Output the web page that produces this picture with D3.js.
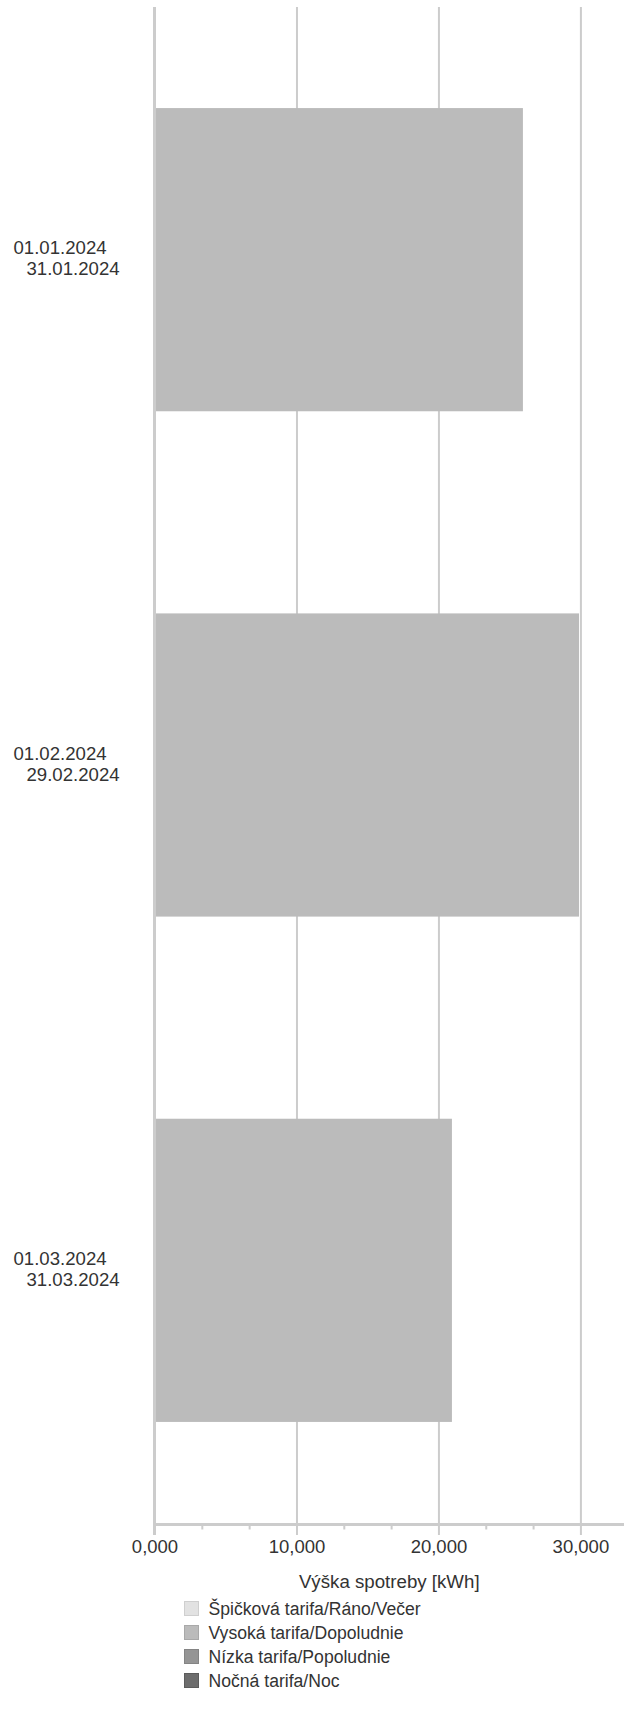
<!DOCTYPE html>
<html>
<head>
<meta charset="utf-8">
<script src="https://cdn.jsdelivr.net/npm/d3@7/dist/d3.min.js"></script>
<style>
	body { margin: 0; background: #fff; }
	svg { display: block; font-family: "Liberation Sans", Arial, sans-serif; }
</style>
</head>
<body>
<script>
// billing periods (two lines per label)
const periodFrom = ["01.01.2024", "01.02.2024", "01.03.2024"];
const periodTo = ["31.01.2024", "29.02.2024", "31.03.2024"];

// consumption per tariff, kWh
const tariffNames = ["Špičková tarifa/Ráno/Večer", "Vysoká tarifa/Dopoludnie", "Nízka tarifa/Popoludnie", "Nočná tarifa/Noc"];
const peakValues = [0, 0, 0];
const highValues = [25950, 29900, 20950];
const lowValues = [0, 0, 0];
const nightValues = [0, 0, 0];

const xTicks = [0, 10000, 20000, 30000];
const xTickLabels = ["0,000", "10,000", "20,000", "30,000"];
const xTitle = "Výška spotreby [kWh]";

/** Horizontal stacked bar chart */
class ConsumptionChart {
	constructor() {
		this.width = 631;
		this.height = 1730;
		this.top = 7;
		this.bottom = 1523;
		this.colors = ["#e2e2e2", "#bbbbbb", "#959595", "#6d6d6d"];
		this.strokes = ["#cfcfcf", "#a9a9a9", "#848484", "#5c5c5c"];
		this.keys = ["peak", "high", "low", "night"];

		this.rows = periodFrom.map(function(d, i) {
			return { from: d, to: periodTo[i], peak: peakValues[i], high: highValues[i], low: lowValues[i], night: nightValues[i] };
		});

		this.x = d3.scaleLinear().domain([0, 33000]).range([154.5, 623]);
		this.y = d3.scaleBand().domain(d3.range(this.rows.length)).range([this.top, this.bottom])
			.paddingInner(0.4).paddingOuter(0.2);
	}

	drawGrid(svg) {
		let g = svg.append("g")
			.attr("transform", "translate(0," + this.bottom + ")")
			.call(d3.axisBottom(this.x).tickValues(xTicks.slice(1)).tickSize(-(this.bottom - this.top)).tickFormat(""));
		g.select(".domain").remove();
		g.selectAll("line").attr("stroke", "#cccccc").attr("stroke-width", 2);
	}

	drawBars(svg) {
		let x = this.x, y = this.y, colors = this.colors;
		let series = d3.stack().keys(this.keys)(this.rows);
		svg.append("g").selectAll("g")
			.data(series)
			.enter().append("g")
			.attr("fill", function(d, i) { return colors[i]; })
			.selectAll("rect")
			.data(function(d) { return d; })
			.enter().append("rect")
			.attr("x", function(d) { return x(d[0]); })
			.attr("y", function(d, i) { return y(i); })
			.attr("width", function(d) { return x(d[1]) - x(d[0]); })
			.attr("height", y.bandwidth());
	}

	drawAxes(svg) {
		let x = this.x;
		// minor ticks, three per major step
		let minor = [];
		for (let i = 0; i < xTicks.length; i++) {
			minor.push(xTicks[i] + 10000 / 3, xTicks[i] + 20000 / 3);
		}
		minor = minor.filter(function(v) { return v < x.domain()[1]; });

		let m = svg.append("g")
			.attr("transform", "translate(0," + (this.bottom + 1.5) + ")")
			.call(d3.axisBottom(x).tickValues(minor).tickSize(5).tickFormat(""));
		m.select(".domain").remove();
		m.selectAll("line").attr("stroke", "#cccccc").attr("stroke-width", 2);

		// zero line
		svg.append("line")
			.attr("x1", x(0)).attr("x2", x(0))
			.attr("y1", this.top).attr("y2", this.bottom + 12)
			.attr("stroke", "#cccccc").attr("stroke-width", 3);

		let a = svg.append("g")
			.attr("transform", "translate(0," + (this.bottom + 1.5) + ")")
			.call(d3.axisBottom(x).tickValues(xTicks).tickSize(10.5).tickPadding(5)
				.tickFormat(function(d, i) { return xTickLabels[i]; }));
		a.select(".domain").attr("d", "M" + (x(0) - 1.5) + ",0H" + 624)
			.attr("stroke", "#cccccc").attr("stroke-width", 3);
		a.selectAll(".tick line").attr("stroke", "#cccccc").attr("stroke-width", 2);
		a.selectAll(".tick text")
			.attr("fill", "#333333")
			.style("font-size", "18.5px")
			.style("font-family", "'Liberation Sans', Arial, sans-serif");

		svg.append("text")
			.attr("x", (x(0) + 624) / 2)
			.attr("y", 1588)
			.attr("text-anchor", "middle")
			.attr("fill", "#333333")
			.style("font-size", "18.7px")
			.text(xTitle);
	}

	drawLabels(svg) {
		let y = this.y;
		let half = y.bandwidth() / 2;
		let labels = svg.append("g").selectAll("text")
			.data(this.rows)
			.enter().append("text")
			.attr("fill", "#333333")
			.style("font-size", "18.6px");
		labels.append("tspan")
			.attr("x", 13.5)
			.attr("y", function(d, i) { return y(i) + half - 5.5; })
			.text(function(d) { return d.from; });
		labels.append("tspan")
			.attr("x", 26.5)
			.attr("y", function(d, i) { return y(i) + half + 15.5; })
			.text(function(d) { return d.to; });
	}

	drawLegend(svg) {
		let colors = this.colors, strokes = this.strokes;
		let item = svg.append("g").selectAll("g")
			.data(tariffNames)
			.enter().append("g")
			.attr("transform", function(d, i) { return "translate(184," + (1608.5 + i * 24) + ")"; });
		item.append("rect")
			.attr("x", 0.5).attr("y", -7)
			.attr("width", 14).attr("height", 14)
			.attr("fill", function(d, i) { return colors[i]; })
			.attr("stroke", function(d, i) { return strokes[i]; });
		item.append("text")
			.attr("x", 24.5)
			.attr("dy", "0.35em")
			.attr("fill", "#333333")
			.style("font-size", "17.6px")
			.text(function(d) { return d; });
	}

	render() {
		let svg = d3.select("body").append("svg")
			.attr("width", this.width)
			.attr("height", this.height);
		this.drawGrid(svg);
		this.drawBars(svg);
		this.drawAxes(svg);
		this.drawLabels(svg);
		this.drawLegend(svg);
	}
}

let chart = new ConsumptionChart();
chart.render();
</script>
</body>
</html>
